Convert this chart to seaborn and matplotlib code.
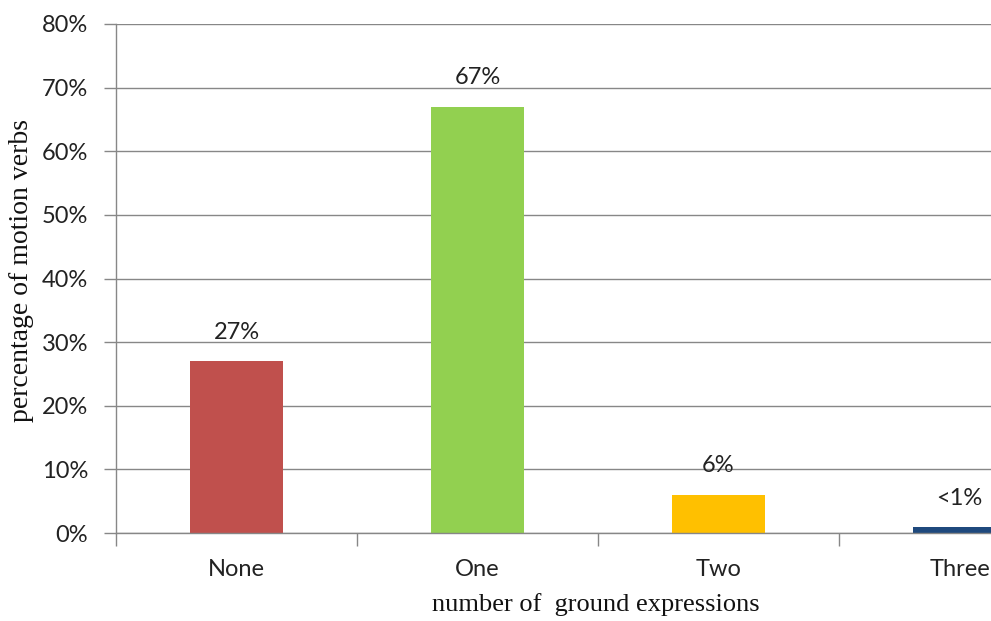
import matplotlib
matplotlib.use("Agg")
import matplotlib.pyplot as plt
import seaborn as sns
import pandas as pd
from matplotlib.ticker import PercentFormatter, FixedLocator

categories = ["None", "One", "Two", "Three"]
shares = [0.27, 0.67, 0.06, 0.009]
value_labels = ["27%", "67%", "6%", "<1%"]
bar_colors = ["#C0504D", "#92D050", "#FFC000", "#1F497D"]
y_ticks = [0.0, 0.1, 0.2, 0.3, 0.4, 0.5, 0.6, 0.7, 0.8]

df = pd.DataFrame({"category": categories, "share": shares})

sns.set_theme(style="white")
plt.rcParams["font.family"] = ["Lato", "DejaVu Sans"]

fig = plt.figure(figsize=(9.91, 6.21), dpi=100)
ax = fig.add_axes([116 / 991, 1 - 533 / 621, 964 / 991, 509 / 621])

sns.barplot(data=df, x="category", y="share", hue="category",
            palette=bar_colors, width=0.39, legend=False, ax=ax,
            saturation=1, linewidth=0)

grid_c = "#878787"
text_c = "#222222"
ax.set_ylim(0, 0.8)
ax.set_xlim(-0.5, 3.5)
ax.set_yticks(y_ticks)
ax.yaxis.set_major_formatter(PercentFormatter(1.0, decimals=0))
ax.yaxis.grid(True, color=grid_c, linewidth=1.0)
ax.set_axisbelow(True)

for s in ["top", "right"]:
    ax.spines[s].set_visible(False)
for s in ["left", "bottom"]:
    ax.spines[s].set_color(grid_c)
    ax.spines[s].set_linewidth(1.0)

ax.tick_params(axis="y", which="major", length=9, width=1.0, color=grid_c,
               direction="out", labelsize=17, labelcolor=text_c, pad=11, left=True)
ax.tick_params(axis="x", which="major", length=0, labelsize=17,
               labelcolor=text_c, pad=19)
ax.xaxis.set_minor_locator(FixedLocator([-0.5, 0.5, 1.5, 2.5, 3.5]))
ax.tick_params(axis="x", which="minor", length=9, width=1.0, color=grid_c,
               direction="out", bottom=True)

for i, (v, lab) in enumerate(zip(shares, value_labels)):
    ax.annotate(lab, (i, v), xytext=(0, 21), textcoords="offset points",
                ha="center", va="center", fontsize=17, color=text_c)

ax.set_ylabel("percentage of motion verbs", family=["Liberation Serif"],
              fontsize=20, color="#111111")
ax.set_xlabel("number of  ground expressions", family=["Liberation Serif"],
              fontsize=19, color="#111111")
ax.xaxis.label.set_va("center")
ax.yaxis.label.set_va("center")
ax.xaxis.set_label_coords((596 - 116) / 964, -(605 - 533) / 509)
ax.yaxis.set_label_coords((22 - 116) / 964, (533 - 271) / 509)

fig.savefig("out.png", dpi=100)
